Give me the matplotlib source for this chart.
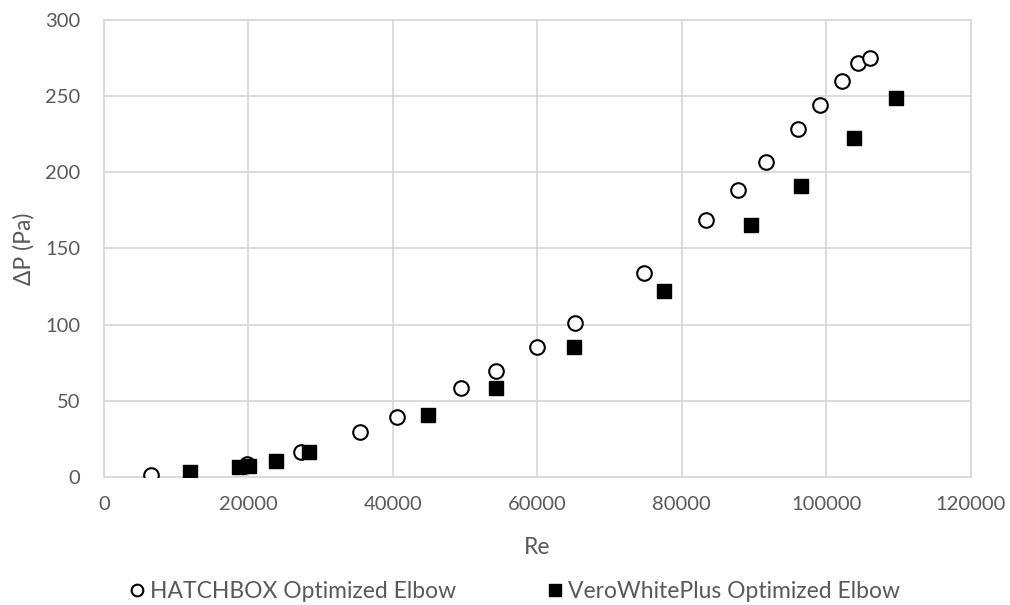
import matplotlib
matplotlib.use("Agg")
import matplotlib.pyplot as plt
from matplotlib.ticker import MultipleLocator

# datos
re_hatchbox = [6460, 19800, 27320, 35390, 40550, 49460, 54310, 60020, 65240, 74740,
               83320, 87750, 91680, 96110, 99150, 102140, 104350, 106010]
dp_hatchbox = [1.5, 8.5, 16.1, 29.5, 39.3, 58.3, 69.7, 85.2, 101.3, 133.9,
               168.6, 188.1, 206.8, 228.7, 244.4, 260.2, 271.7, 274.8]

re_vero = [11860, 18680, 20030, 23760, 28370, 44900, 54310, 65050, 77600,
           89550, 96460, 103860, 109670]
dp_vero = [3.0, 6.6, 7.4, 10.7, 16.6, 40.8, 58.7, 85.4, 121.9,
           165.3, 190.9, 222.5, 249.0]

label_hatchbox = "HATCHBOX Optimized Elbow"
label_vero = "VeroWhitePlus Optimized Elbow"

plt.rcParams['font.family'] = ['Lato', 'DejaVu Sans']
FS_TICK = 14.5
FS_LAB = 16.5

GRIS = '#595959'
GRID = '#d9d9d9'

fig = plt.figure(figsize=(10.1, 6.05), dpi=100)
ax = fig.add_axes([0.103, 0.2116, 0.858, 0.7554])

ax.plot(re_hatchbox, dp_hatchbox, linestyle='none', marker='o', markersize=10.5,
        markerfacecolor='white', markeredgecolor='black', markeredgewidth=1.5,
        label=label_hatchbox, zorder=3)
ax.plot(re_vero, dp_vero, linestyle='none', marker='s', markersize=10.5,
        markerfacecolor='black', markeredgecolor='black',
        label=label_vero, zorder=3)

ax.set_xlim(0, 120000)
ax.set_ylim(0, 300)
ax.xaxis.set_major_locator(MultipleLocator(20000))
ax.yaxis.set_major_locator(MultipleLocator(50))

ax.grid(True, color=GRID, linewidth=1.3)
ax.set_axisbelow(True)
for s in ax.spines.values():
    s.set_color(GRID)
    s.set_linewidth(1.3)

ax.tick_params(axis='both', length=0, colors=GRIS, labelsize=FS_TICK)
ax.tick_params(axis='x', pad=14)
ax.tick_params(axis='y', pad=17)

ax.set_xlabel('Re', color=GRIS, fontsize=FS_LAB, va='center')
ax.xaxis.set_label_coords(0.5, -0.155)
ax.set_ylabel('ΔP (Pa)', color=GRIS, fontsize=FS_LAB, va='center')
ax.yaxis.set_label_coords(-0.092, 0.5)

fig.legend(loc='center', bbox_to_anchor=(0.509, 0.022), ncol=2, frameon=False,
           fontsize=FS_LAB, columnspacing=3.9, handletextpad=0.17, handlelength=0.8,
           markerscale=0.8, labelcolor=GRIS, borderpad=0, borderaxespad=0)

fig.savefig('out.png', dpi=100)
